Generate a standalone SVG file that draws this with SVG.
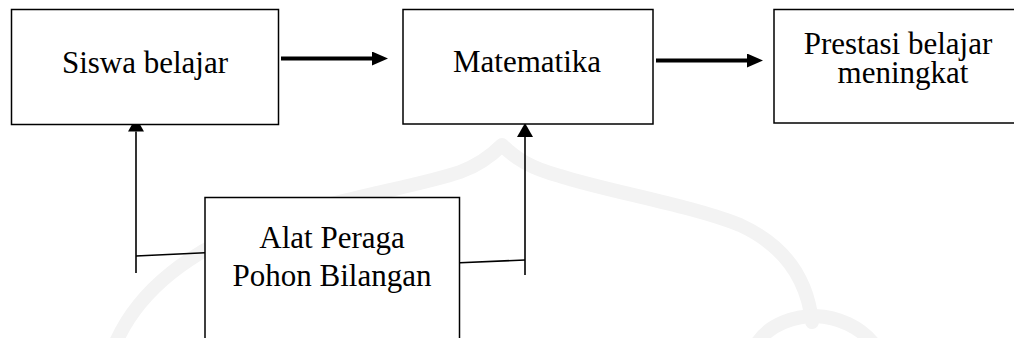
<svg xmlns="http://www.w3.org/2000/svg" width="1014" height="338" viewBox="0 0 1014 338">
  <style>
    .box { fill: #ffffff; stroke: #000000; stroke-width: 1.5; }
    .label { font-family: "Liberation Serif", "Times New Roman", serif; font-size: 31px; fill: #000000; text-anchor: middle; }
    .flow { stroke: #000000; stroke-width: 4; fill: none; }
    .link { stroke: #000000; stroke-width: 1.6; fill: none; }
    .mark { stroke: #f3f3f3; stroke-width: 14; fill: none; stroke-linecap: round; stroke-linejoin: round; }
  </style>
  <defs>
    <marker id="head-thick" markerUnits="userSpaceOnUse" markerWidth="17" markerHeight="15" refX="0" refY="7" orient="auto">
      <path d="M0,0 L16,7 L0,14 Z" fill="#000000"/>
    </marker>
    <marker id="head-thin" markerUnits="userSpaceOnUse" markerWidth="15" markerHeight="17" refX="0" refY="8" orient="auto">
      <path d="M0,0 L14,8 L0,16 Z" fill="#000000"/>
    </marker>
  </defs>

  <rect width="1014" height="338" fill="#ffffff"/>

  <!-- faint background emblem -->
  <g id="emblem">
    <path class="mark" d="M117,340 C140,290 190,250 260,225 C330,200 420,186 460,172 C482,164 495,152 502,145 C515,158 530,168 560,176 C610,192 690,205 740,225 C790,248 808,285 812,322"/>
    <path class="mark" d="M758,342 C770,324 795,316 815,316 C840,317 860,328 872,342"/>
  </g>

  <g id="connectors">
    <line class="flow" x1="281" y1="58.5" x2="372" y2="58.5" marker-end="url(#head-thick)"/>
    <line class="flow" x1="656" y1="60.5" x2="747" y2="60.5" marker-end="url(#head-thick)"/>
    <polyline class="link" points="205,252.7 136,256" />
    <line class="link" x1="136" y1="273" x2="136" y2="131.5" marker-end="url(#head-thin)"/>
    <polyline class="link" points="460,262.7 525,260" />
    <line class="link" x1="525" y1="275" x2="525" y2="137" marker-end="url(#head-thin)"/>
  </g>

  <g id="node-siswa">
    <rect class="box" x="11.5" y="9.5" width="267" height="115"/>
    <text class="label" x="145" y="72.5">Siswa belajar</text>
  </g>

  <g id="node-matematika">
    <rect class="box" x="403" y="9.5" width="250" height="114.5"/>
    <text class="label" x="527" y="72">Matematika</text>
  </g>

  <g id="node-prestasi">
    <rect class="box" x="774" y="9.5" width="260" height="113.5"/>
    <text class="label" x="898" y="54">Prestasi belajar</text>
    <text class="label" x="903" y="83">meningkat</text>
  </g>

  <g id="node-alat">
    <rect class="box" x="205" y="197.5" width="254.5" height="160"/>
    <text class="label" x="332" y="248">Alat Peraga</text>
    <text class="label" x="332" y="286">Pohon Bilangan</text>
  </g>
</svg>
